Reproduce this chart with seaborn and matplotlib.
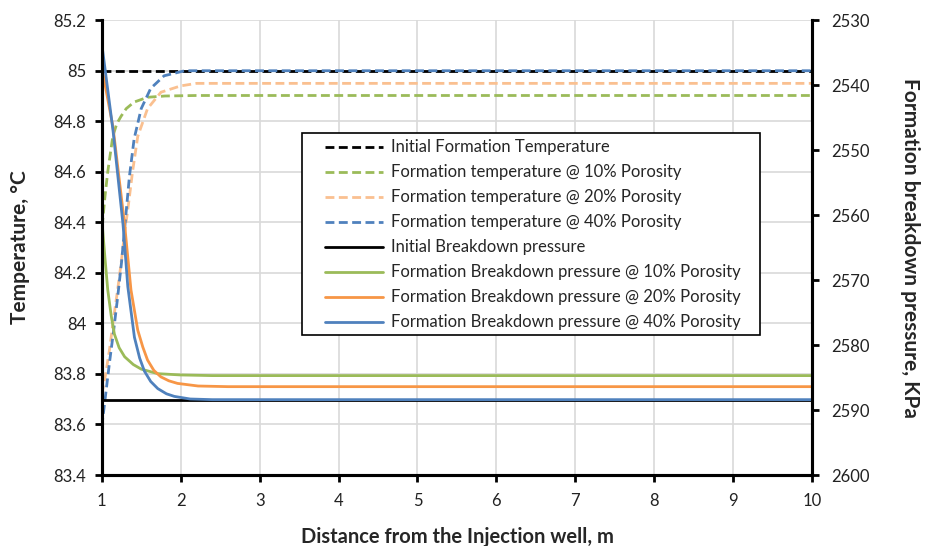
import matplotlib
matplotlib.use("Agg")
import matplotlib.pyplot as plt
import seaborn as sns
from matplotlib.ticker import FuncFormatter
from matplotlib.patches import Rectangle

sns.set_style("white")
plt.rcParams['font.family'] = ['Lato', 'DejaVu Sans']

# ---- data ----
x_ticks = [1, 2, 3, 4, 5, 6, 7, 8, 9, 10]

# Temperatures (left axis, degC)
init_temp_x = [1, 10]
init_temp = [85.0, 85.0]

t10_x = [1.0, 1.01, 1.04, 1.076, 1.14, 1.19, 1.245, 1.31, 1.41, 1.58, 1.8, 2.2, 3, 4, 5, 6, 7, 8, 9, 10]
t10 = [84.33, 84.40, 84.50, 84.60, 84.74, 84.79, 84.82, 84.85, 84.876, 84.895, 84.90, 84.902,
       84.902, 84.902, 84.902, 84.902, 84.902, 84.902, 84.902, 84.902]

t20_x = [1.0, 1.05, 1.10, 1.15, 1.20, 1.25, 1.29, 1.33, 1.39, 1.456, 1.58, 1.75, 2.0, 2.2,
         3, 4, 5, 6, 7, 8, 9, 10]
t20 = [83.72, 83.80, 83.90, 84.02, 84.13, 84.25, 84.36, 84.45, 84.60, 84.74, 84.85, 84.915,
       84.94, 84.95, 84.95, 84.95, 84.95, 84.95, 84.95, 84.95, 84.95, 84.95]

t40_x = [1.0, 1.05, 1.10, 1.15, 1.20, 1.25, 1.30, 1.35, 1.41, 1.50, 1.62, 1.79, 2.05, 2.3,
         3, 4, 5, 6, 7, 8, 9, 10]
t40 = [83.59, 83.72, 83.85, 83.97, 84.10, 84.24, 84.41, 84.58, 84.73, 84.85, 84.93, 84.98,
       85.0, 85.0, 85.0, 85.0, 85.0, 85.0, 85.0, 85.0, 85.0, 85.0]

# Breakdown pressures (right axis, KPa, inverted)
init_p_x = [1, 10]
init_p = [2588.4, 2588.4]

p10_x = [1.0, 1.04, 1.076, 1.12, 1.16, 1.22, 1.29, 1.40, 1.50, 1.71, 2.0, 2.4,
         3, 4, 5, 6, 7, 8, 9, 10]
p10 = [2560.5, 2566.5, 2571.5, 2575.5, 2578.3, 2580.4, 2581.8, 2583.0, 2583.7, 2584.4,
       2584.6, 2584.7, 2584.7, 2584.7, 2584.7, 2584.7, 2584.7, 2584.7, 2584.7, 2584.7]

p20_x = [1.0, 1.143, 1.29, 1.37, 1.456, 1.52, 1.58, 1.66, 1.75, 1.85, 1.96, 2.22, 2.6,
         3, 4, 5, 6, 7, 8, 9, 10]
p20 = [2537.2, 2546.5, 2561.5, 2571.5, 2577.7, 2580.3, 2582.3, 2583.9, 2584.9, 2585.5,
       2585.9, 2586.3, 2586.4, 2586.4, 2586.4, 2586.4, 2586.4, 2586.4, 2586.4, 2586.4, 2586.4]

p40_x = [1.0, 1.143, 1.27, 1.33, 1.414, 1.48, 1.54, 1.62, 1.71, 1.82, 1.92, 2.12, 2.4,
         3, 4, 5, 6, 7, 8, 9, 10]
p40 = [2533.6, 2547.0, 2561.5, 2571.0, 2578.8, 2582.0, 2584.0, 2585.6, 2586.7, 2587.5,
       2587.9, 2588.3, 2588.4, 2588.4, 2588.4, 2588.4, 2588.4, 2588.4, 2588.4, 2588.4, 2588.4]

temp_ticks = [83.4, 83.6, 83.8, 84.0, 84.2, 84.4, 84.6, 84.8, 85.0, 85.2]
p_ticks = [2530, 2540, 2550, 2560, 2570, 2580, 2590, 2600]

labels = ["Initial Formation Temperature",
          "Formation temperature @ 10% Porosity",
          "Formation temperature @ 20% Porosity",
          "Formation temperature @ 40% Porosity",
          "Initial Breakdown pressure",
          "Formation Breakdown pressure @ 10% Porosity",
          "Formation Breakdown pressure @ 20% Porosity",
          "Formation Breakdown pressure @ 40% Porosity"]

GREEN = "#9BBB59"
PEACH = "#FAC090"
BLUE = "#4F81BD"
ORANGE = "#F79646"

fig = plt.figure(figsize=(9.25, 5.46), dpi=100)
ax = fig.add_axes([0.110, 0.130, 0.768, 0.833])
ax2 = ax.twinx()

lw = 2.0
dash = (0, (3.2, 1.6))
handles = []
for xs, ys, c in [(init_temp_x, init_temp, "black"), (t10_x, t10, GREEN),
                  (t20_x, t20, PEACH), (t40_x, t40, BLUE)]:
    sns.lineplot(x=xs, y=ys, ax=ax, color=c, linewidth=lw, linestyle=dash,
                 sort=False, estimator=None)
    handles.append(ax.lines[-1])
for xs, ys, c in [(init_p_x, init_p, "black"), (p10_x, p10, GREEN),
                  (p20_x, p20, ORANGE), (p40_x, p40, BLUE)]:
    sns.lineplot(x=xs, y=ys, ax=ax2, color=c, linewidth=lw, linestyle="-",
                 sort=False, estimator=None)
    handles.append(ax2.lines[-1])

ax.set_xlim(1, 10)
ax.set_ylim(83.4, 85.2)
ax.set_yticks(temp_ticks)
ax.set_xticks(x_ticks)
ax.yaxis.set_major_formatter(FuncFormatter(lambda v, p: f"{v:g}"))
ax2.set_yticks(p_ticks)
ax2.set_ylim(2600, 2530)

ax.grid(True, color="#D9D9D9", linewidth=1.2)
ax2.grid(False)
ax.set_axisbelow(True)

for a in (ax, ax2):
    for s in a.spines.values():
        s.set_color("black")
        s.set_linewidth(2.2)
    a.spines["top"].set_visible(False)
    a.tick_params(axis="both", which="major", labelsize=12, length=5,
                  width=2, color="black", direction="out", labelcolor="#222222")
ax.tick_params(axis="y", left=True, pad=6)
ax.tick_params(axis="x", bottom=True, pad=8)
ax2.tick_params(axis="y", right=True, pad=9)

ax.set_xlabel("Distance from the Injection well, m", fontsize=14.5,
              fontweight="bold", labelpad=13)
ax.set_ylabel("Temperature, °C", fontsize=15, fontweight="bold", labelpad=17)
ax2.set_ylabel("Formation breakdown pressure, KPa", fontsize=15,
               fontweight="bold", rotation=-90, labelpad=36)

# legend frame (white box with black border) behind the legend entries
frame = Rectangle((0.2817, 0.3077), 0.6451, 0.4439, transform=ax2.transAxes,
                  facecolor="white", edgecolor="black", linewidth=1.2, zorder=4)
ax2.add_patch(frame)

leg = ax2.legend(handles, labels, loc="upper left",
                 bbox_to_anchor=(0.3141, 0.738), fontsize=12,
                 frameon=False, handlelength=3.5,
                 labelspacing=0.54, borderpad=0.0, handletextpad=0.45,
                 borderaxespad=0)
leg.set_zorder(5)

fig.savefig("out.png", dpi=100)
